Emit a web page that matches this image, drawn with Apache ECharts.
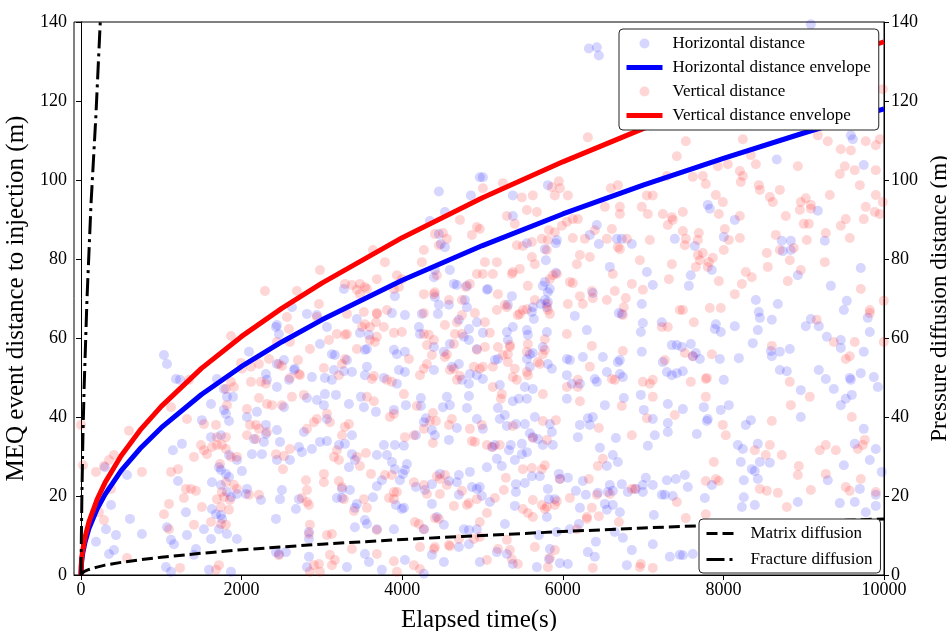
<!DOCTYPE html>
<html>
<head>
    <meta charset="utf-8">
    <title>MEQ distance vs time</title>
    <script type="text/javascript" src="https://cdn.jsdelivr.net/npm/echarts@6/dist/echarts.min.js"></script>
</head>
<body style="margin:0">
    <div id="main" style="width: 947px;height:631px;"></div>
    <script type="text/javascript">
    // ticks
    var xTicks = [0, 2000, 4000, 6000, 8000, 10000];

    // scatter: [elapsed time (s), distance (m)]
    var horizontalPoints = [
        [4457,97.1],[4856,96.1],[4967,100.7],[6325,133.3],[6424,133.6],[6449,131.5],[5005,100.7],[5378,96.1],[5814,98.7],[9089,139.4],[9587,111.3],[9612,110.3],[8665,105.2],[9748,103.8],[7806,93.7],
        [7831,92.7],[8142,89.9],[9176,92.2],[8005,85.6],[7644,83.3],[7856,77.2],[8727,84.6],[8740,82],[8840,84.6],[8840,82.3],[8927,75.9],[9263,84.6],[9711,77.7],[7594,75.9],[7570,73.2],[9338,73.2],[8404,69.6],[8678,68.6],[9537,69.4],[9500,67.1],[9798,65.1],[8441,66.6],[8454,65.1],[8603,64.6],[7906,63.5],[7893,62.3],[7968,61.5],[8142,63],[8429,62],[9089,64.8],[9026,63],[9188,63],[9823,61.5],[8366,58.7],[9288,60.3],[9462,59.5],[9462,57.5],[9748,56.5],[7594,58.5],[7657,56.2],[7619,55.4],[7707,54.7],[7956,54.7],[8192,54.9],[8591,56.7],[8603,55.4],[8703,56.5],[8827,57.2],[7495,51.6],[8005,49.4],[8703,51.9],[8790,51.6],[8964,46.8],[9188,51.9],[9275,49.6],[9375,47.1],[9574,49.9],[9587,49.4],[9711,51.1],[9873,50.1],[9923,47.6],
        [7756,42.5],[7495,42],[7968,41.8],[8068,43],[7806,39.5],[7794,39],[8279,38],[8342,39.2],[7669,35.7],[8180,32.9],[8242,31.9],[8429,33.2],[8217,28.6],[8454,28.6],[8578,28.4],[8354,26.8],[8391,26.3],[7520,25.3],[7856,22.8],[7557,22.3],[8254,24],[8429,24.3],[8254,19.7],[7769,19.5],[9636,33.2],[9898,31.9],[9823,29.1],[9500,27.8],[9300,24],[9972,26.1],[9699,21.8],[8927,18.5],[9450,18.2],[9636,18.5],[9773,15.9],[9898,17.5],[9898,20.3],[8230,17.2],[8391,17.7],[8964,40],[9599,45.6],[9524,44.6],[9462,43],[9748,37],[7495,5],[7619,5.3],
        [5378,44],[5453,44.6],[5553,44.6],[6051,44.6],[6524,43],[6760,44.8],[6972,45.6],[7308,43.3],[7009,41.8],[7121,39.5],[7308,38.5],[7146,35.4],[7308,36.2],[7059,32.7],[6661,34.7],[6462,32.2],[6623,30.4],[6686,28.6],[6549,27.6],[6213,38],[6337,38],[6312,39.7],[6374,40],[6188,34.9],[5652,40],[5839,38.2],[5528,38.2],[5416,38.2],[5304,37.7],[5216,39.5],[5279,40.5],[5192,42.3],[5005,37],[5590,35.9],[5627,34.9],[5690,34.4],[5752,32.9],[5864,36.2],[5876,32.9],[5490,33.2],[5353,32.9],[5329,31.6],[5154,32.9],[5117,32.4],[5403,29.1],[5490,30.6],[5553,31.1],[5179,29.4],[5055,27.3],[5241,27.6],[5615,25],[5714,25],[5951,25.6],[5964,24.3],[6063,24.6],[5416,23],[5416,21],[5528,23.3],[5814,21.8],[4967,22.3],[4992,20],[5092,18.5],[5279,12.9],[5827,19.2],[5901,19.2],[5802,14.7],[5403,17.5],[6213,17],[6163,21.3],[6287,20.3],[6437,20.8],[6586,22.8],[6623,21.3],[6561,21],[6735,23],[6810,21],[6910,21.8],[6997,22.8],[7034,24.6],[6997,21],[7121,22.8],[7233,20.3],[6250,23.8],[6524,18],[6623,17.7],[6711,15.9],[6549,16.5],[6200,12.9],[7134,15.2],[7271,20.3],[7370,20],[7296,24],[7408,24.3],[7121,7.8],[6860,6.3],[6798,2.5],[7333,4.6],[7457,5.1],[6412,8.4],[6312,5.8],[6399,4.6],[6063,2.8],[5964,3],[5827,4],[5839,6.6],[5677,2],[5179,5.8],[5304,5.3],[5378,2.8],[4967,3.3],[5926,10.9],[5702,10.1],[6648,10.9],[6748,9.4],[6088,11.6],
        [2527,42.5],[2814,44.8],[2938,44.3],[3038,45.8],[3175,45.6],[3337,43.3],[3486,45.1],[3523,42.5],[3673,41.3],[3897,41.8],[4046,43],[4233,44.8],[4233,42.8],[4295,39.7],[4270,38.7],[4507,42.5],[4557,45.1],[4594,43],[4806,42.3],[4831,45.3],[4171,35.4],[4370,36.7],[4407,35.4],[4582,34.2],[4681,37.2],[4930,39.5],[4021,32.7],[3909,32.9],[3772,32.9],[3685,30.4],[3810,30.4],[3872,28.6],[3909,26.8],[4059,28.1],[4034,26.6],[3374,30.6],[3411,29.1],[3337,27.3],[3212,32.9],[3287,33.2],[2976,33.7],[3063,33.9],[2776,36.2],[2714,32.4],[2751,31.1],[2876,31.9],[2478,33.7],[2440,29.1],[2602,29.1],[2440,36.7],[3063,39.5],[3025,43],[3374,35.4],[3685,22.5],[3747,24],[3250,21.8],[3349,21.5],[2502,21.5],[2478,19.2],[2714,19.2],[2677,16.7],[3187,19.5],[3250,19.5],[3436,18],[3411,17],[3636,19.7],[3922,17.7],[3996,16.7],[4021,17],[3972,24],[4009,25.6],[4171,22.3],[4283,21.5],[4370,23],[4470,25.6],[4582,23.8],[4681,23.5],[4868,22.3],[4930,21.8],[4706,25.3],[4843,26.1],[4370,18],[4706,20.3],[4270,11.6],[4432,14.7],[4519,12.7],[2839,10.9],[2839,9.1],[3411,12.1],[3536,13.9],[3561,12.9],[3685,11.6],[3897,11.6],[4370,5.1],[4519,3.3],[4706,7.1],[4831,7.8],[4768,11.6],[4831,11.4],[4930,11.6],[2465,5.3],[2552,5.8],[2839,4.6],[2814,2],[3312,2],[3536,5.3],[3586,3.3],[3747,1.3],[4034,3.8],[4270,0.3],
        [299,27.3],[573,25.3],[374,17.7],[311,11.6],[436,10.1],[187,8.4],[610,14.2],[411,6.3],[349,5.3],[759,10.4],[1257,33.2],[1145,31.6],[1208,23.8],[1506,39.2],[1619,43.3],[1818,45.1],[1893,45.1],[1843,39],[1805,40.8],[1780,41.8],[2191,41.3],[2067,40],[2303,38],[2154,34.4],[2278,33.7],[2303,35.7],[1619,34.9],[1743,35.4],[1843,30.4],[1942,29.1],[1718,27.3],[1743,26.6],[1805,25.6],[1843,24.8],[2004,26.3],[2129,30.6],[2253,30.6],[1631,23.5],[1743,22.8],[1818,21],[1942,20.5],[1868,19.7],[2067,21.8],[2054,20.5],[2241,19],[1631,16.7],[1681,15.4],[1743,15.2],[1755,14.2],[1531,11.6],[1307,15.9],[1071,12.1],[1121,8.9],[1158,7.8],[1320,10.1],[1619,9.1],[1718,11.6],[1818,10.4],[1942,9.1],[1432,6.6],[1407,5.1],[1058,2],[1121,0.8],[1594,1.3],[1868,0.8],[2428,5.8],[2428,14.2],
        [1033,55.7],[1071,53.4],[1183,49.6],[1233,49.4],[2092,56.5],[2303,50.9],[2316,49.4],[2440,53.4],[2428,62.8],[1693,49.6],[1780,47.1],
        [4345,89.6],[4532,91.9],[4457,86.3],[4482,83.8],[4532,83],[4594,77.2],[4407,77.2],[4395,75.4],[4644,73.7],[4681,73.4],[4806,73.2],[4407,70.4],[4457,68.4],[4582,68.4],[4781,69.6],[4806,67.8],[4706,64.6],[4831,62.3],[4930,64],[4445,66.1],[4245,66.1],[3909,70.6],[3872,66.3],[4034,65.8],[3274,72.4],[2627,67.8],[2814,66.1],[2938,65.8],[3063,62.8],[3436,64.8],[3474,61.3],[3586,60.8],[3561,57.2],[3536,57],[2976,58.5],[3125,55.9],[3162,55.7],[3312,54.4],[3150,51.9],[3274,51.6],[3374,51.4],[3536,50.6],[3561,52.7],[3772,49.9],[2876,50.1],[3038,49.9],[3125,49.4],[2527,54.4],[2652,51.9],[2664,52.2],[2440,47.6],[2590,49.4],[2440,63.3],[2465,61],[3897,57],[3934,55.9],[4034,56.5],[3959,51.9],[4034,51.4],[3934,48.4],[4208,62.8],[4221,61],[4395,57.7],[4519,56.5],[4594,58.5],[4768,60.3],[4831,59.5],[4395,51.9],[4619,52.7],[4706,53.4],[4744,49.4],[4843,50.9],[4831,48.4],[4930,57.2],[4930,50.6],
        [5378,90.9],[6424,88.6],[6337,86.1],[6449,83.8],[5926,84.8],[5914,84],[5553,84],[5777,82.5],[5789,79.7],[6673,85.1],[6735,85.1],[6860,83.8],[7395,85.1],[6586,78],[7047,76.7],[7121,73.4],[5067,72.4],[5055,72.2],[5366,70.6],[5914,76.5],[5752,73.2],[5777,74.2],[5839,72.4],[5814,71.6],[5777,69.6],[5814,69.1],[5802,67.8],[5727,68.6],[5627,67.8],[5615,66.6],[5640,64.8],[5316,68.4],[5378,62.8],[5304,61.5],[5005,61.3],[5553,62],[5565,60.8],[5802,61.5],[5590,55.9],[5627,56.2],[5553,54.7],[5590,52.7],[5316,59.5],[5192,54.7],[5154,54.4],[5752,57.7],[5814,53.4],[5864,52.2],[6051,50.6],[6113,48.4],[6213,48.4],[6088,54.4],[6250,55.2],[6300,62],[6499,55.2],[6150,65.6],[6374,71.4],[6698,66.3],[6735,66.1],[6984,68.6],[6997,63.8],[6972,61.5],[7233,64],[6984,56.5],[7358,58.2],[7420,58.2],[7483,57.7],[7246,53.9],[7296,51.4],[7358,50.6],[7420,51.1],[6711,54.4],[6686,53.9],[6549,51.4],[6748,50.1],[6711,50.9],[6399,49.6],[6424,48.9],[6051,54.7],[5005,49.6],[5216,48.1],[5528,47.6],[5627,47.1]
    ];

    var verticalPoints = [
        [6312,110.8],[5005,97.9],[5254,99.2],[5490,95.6],[5627,96.1],[5864,98.2],[5951,99.7],[5964,97.9],[5901,96.1],[6063,96.1],[6598,97.9],[6686,98.7],[7047,96.1],[7121,96.1],[7420,106],[7296,101],[9985,123],[7532,109.8],[8242,110.3],[9176,111.3],[9300,109.8],[9462,107.8],[9587,107.5],[9773,109.8],[9898,108.8],[9948,110.3],[7619,100.8],[7744,101],[7781,99],[7906,96.2],[7931,103.5],[8055,104],[7993,94.4],[8205,102.3],[8217,99.5],[8242,101],[8342,106.3],[8404,104],[8441,98.7],[8454,97.5],[8578,95.7],[8615,94.4],[8703,97.5],[8927,103.5],[8964,94.4],[9026,95.4],[9089,93.7],[9325,96.2],[9450,101.5],[9512,103.5],[9636,102.5],[9898,102.5],[9699,98.7],[9898,96.2],[9985,94.4],
        [7943,91.4],[8205,90.9],[8777,90.9],[8952,92.4],[9089,92.7],[9001,88.9],[9064,88.9],[9773,93.2],[9885,91.9],[9948,91.4],[9748,90.1],[9524,90.1],[9462,88.4],[9574,85.3],[7495,91.9],[7495,87.1],[7532,85.1],[7520,83.5],[7694,86.6],[7682,84.8],[8068,84.8],[8018,87.6],[8205,85.3],[7744,81.5],[7682,81],[7707,79.7],[7868,80.3],[7819,79.2],[7806,78],[7657,78],[8005,82.3],[8653,86.1],[8703,82.3],[8877,82.8],[8541,81.5],[8827,79.7],[8553,78],[8964,77.2],[8802,74.4],[9039,84.8],[9275,86.6],[9263,79.2],[8279,76.7],[8354,75.4],[7943,74.4],[8230,73.7],[9711,72.4],[8142,71.1],[9997,69.4],[9823,67.1],[9823,66.3],[7831,67.6],[7968,67.6],[7495,67.1],[7632,64],[9163,64.6],[9375,59],[9636,59],[9997,59],[7520,56.2],[7619,55.4],[7856,55.9],[8603,58],[9524,54.7],[9574,55.4],[7594,48.9],[7781,49.6],[7794,49.9],[8827,48.9],[10010,47.6],
        [7781,45.1],[7993,38],[8030,35.4],[8603,39],[8578,32.9],[8391,31.6],[8528,30.4],[8727,30.4],[7881,28.6],[8939,27.6],[8927,25.3],[7906,24.3],[7943,23.8],[7781,23.8],[8454,21.8],[8541,21.3],[8678,20.8],[9200,31.6],[9275,32.9],[9400,31.6],[9674,31.9],[9736,32.9],[9761,34.2],[9275,25.6],[9711,24.3],[9524,22.3],[9574,21.3],[9089,21.5],[8790,17.2],[9898,21],[7532,14.4],[7781,15.4],[9599,40],[8840,43],[9076,45.1],
        [5241,45.8],[5229,44.6],[5752,45.8],[6213,44],[6735,42.8],[7121,45.1],[7395,40.5],[7047,39.7],[6860,35.4],[6499,29.4],[6437,27.6],[6449,37.2],[5914,39.2],[5752,39],[5378,37.7],[4992,38],[5802,34.2],[5627,34.7],[5216,32.9],[5129,32.4],[5055,32.9],[5503,26.8],[5615,27.1],[5739,26.8],[5777,27.8],[5964,24.3],[5291,24.6],[5266,21.5],[5154,19.5],[5055,15.7],[4967,13.4],[5627,19],[5503,16.7],[5565,15.7],[5627,14.7],[5739,17.7],[5802,17.2],[5777,16.7],[5926,18.7],[5901,17.7],[6088,19.5],[6300,14.7],[6362,17],[6424,20.3],[6586,20.5],[6325,24.3],[6449,14.9],[6698,13.4],[6300,14.2],[6860,21.8],[6897,21.8],[7420,18.5],[6972,2.8],[6960,2],[7121,1.8],[6374,1.8],[5814,2],[5839,4.3],[5652,7.1],[5901,6.3],[5192,6.6],[5304,8.9],[5341,6.3],[5366,4],[5440,2.8],[5055,3.8],[4967,9.6],[6175,11.6],
        [2502,43],[2627,45.1],[2776,45.6],[3561,45.1],[3648,44],[3847,40],[3897,40.8],[4021,45.8],[4183,42.8],[4382,41],[4345,39],[4420,39],[4582,38],[4619,39.5],[4270,37],[4868,33.9],[4905,33.7],[4034,34.9],[4146,35.4],[4382,33.4],[4843,37],[3548,30.9],[3436,29.9],[3474,27.6],[3187,31.6],[3150,29.9],[3212,29.1],[2602,31.9],[2527,30.1],[2515,26.8],[2814,37],[2901,38.7],[2938,39.5],[3063,40.8],[3100,38.7],[3287,37.5],[3337,38.2],[3250,35.4],[3611,25.6],[3785,25.3],[3872,25.3],[3212,23.8],[3250,22.3],[3025,25.6],[3025,23.5],[2814,21.5],[2801,24],[2751,19.5],[2814,18.5],[2839,17.7],[3275,19.2],[3399,16.2],[3523,19.2],[3561,17],[3897,21],[3835,19.5],[3897,19.2],[3934,21],[4146,23.5],[4270,22.8],[4308,20.5],[4432,25],[4470,24.3],[4532,25.3],[4470,20.5],[4557,22.8],[4744,21.3],[4831,18.2],[4806,17.7],[4644,17.5],[4930,19.2],[4158,13.4],[4208,12.9],[4270,11.6],[4407,14.4],[4457,14.2],[2851,12.7],[2839,10.4],[3063,10.1],[3125,10.4],[3685,11.4],[4221,7.1],[4407,7.1],[4395,6.6],[4582,7.6],[4594,7.3],[4706,9.1],[4893,9.1],[2465,5],[2901,2.5],[2963,2.8],[2851,0.8],[2976,0.8],[3100,5.1],[3162,3.8],[3125,2.5],[3374,6.6],[3685,5.3],[3897,3.5],[3934,0.8],[4146,2.5],[4221,1.5],
        [0,38],[25,27.8],[187,26.1],[286,27.6],[349,29.1],[411,30.4],[598,36.5],[759,26.1],[374,21.8],[224,15.9],[286,13.9],[573,4.3],[1121,26.1],[1208,26.8],[1320,39.5],[1121,42.5],[1818,43],[1531,38.2],[1681,38],[2067,42],[2216,44.8],[2316,43.3],[2378,43],[2104,38],[2179,38],[2216,37],[2316,36.2],[2067,35.4],[2179,34.4],[1693,34.9],[1805,34.9],[1494,32.9],[1631,32.4],[1569,30.6],[1531,31.6],[1693,32.9],[1755,32.9],[1805,31.9],[1868,29.9],[1942,29.9],[1407,29.9],[1731,28.1],[1805,23.5],[1905,22.8],[1942,21.8],[1755,21],[1780,19.7],[1693,19.2],[1855,19],[2216,20.3],[2092,20.3],[1307,21.8],[1370,21.8],[1432,21.3],[1282,19.5],[1506,17.2],[1743,17.2],[1843,16.5],[1619,13.4],[1743,12.9],[1805,12.7],[1033,15.4],[1096,18],[1096,11.6],[1407,12.7],[1233,1.8],[1718,2.5],[1681,1.3],[2428,30.6],
        [2291,71.9],[1868,60.5],[1345,49.4],[2117,52.7],[2216,53.4],[2341,54.7],[2117,48.9],[2241,48.9],[2303,48.4],[1992,53.7],[2004,52.2],[1868,48.9],[1905,47.6],[1805,47.1],
        [4719,89.9],[2976,77.2],[2689,71.9],[3636,82.3],[3785,79.2],[4270,82.3],[4245,79.2],[4407,86.3],[4507,86.6],[4557,85.1],[4457,83.5],[4868,86.1],[4930,88.1],[4432,75.9],[4930,76.2],[4793,72.9],[4843,73.7],[4270,71.1],[4407,71.6],[4395,71.1],[4582,69.6],[4744,69.6],[4744,65.8],[4905,66.3],[4681,64],[4532,63.3],[4656,61],[4270,66.3],[3685,74.9],[3934,75.9],[3996,74.9],[3959,72.9],[3897,72.4],[3810,67.1],[3685,66.3],[3523,66.6],[3287,73.7],[3374,73.4],[3474,73.7],[3536,72.9],[3436,72.2],[3561,72.4],[3474,71.1],[2963,68.6],[2938,65.3],[3312,66.1],[3685,66.1],[3673,64],[3598,62.8],[3536,63.5],[3499,62.8],[3312,61],[3287,60.8],[3187,61],[3772,62.8],[3598,59.5],[3660,59],[3685,60.3],[3897,61.3],[3996,61.5],[3436,57.2],[2851,57.2],[3088,59.5],[3287,54.7],[3025,52.4],[3212,50.6],[3250,53.4],[3623,49.6],[3648,50.4],[2465,53.4],[2502,52.9],[2702,54.4],[2714,50.9],[2602,49.9],[2727,50.6],[2565,65.3],[2590,62.3],[2440,59],[2602,59],[4084,54.7],[3810,49.4],[3872,48.9],[4270,61],[4332,60.8],[4395,59.5],[4308,58.2],[4370,55.7],[4557,55.9],[4532,55.2],[4644,58.5],[4744,61],[4308,53.4],[4270,52.2],[4221,50.6],[4594,51.9],[4644,52.2],[4681,49.4],[4719,50.4],[4930,57],[4893,52.7],
        [5304,90.9],[5403,88.9],[5553,92.4],[5677,91.9],[4967,87.6],[6051,89.4],[6125,90.1],[6188,90.1],[6524,93.2],[6711,91.4],[6711,93.2],[6984,93.2],[7059,91.4],[7246,91.4],[7358,90.6],[7370,89.9],[7308,88.6],[6399,87.3],[6549,85.1],[6611,87.6],[6275,85.1],[6125,85.3],[5989,88.4],[5901,86.8],[5827,87.3],[5814,84.8],[5739,85.1],[5615,84.3],[5503,83.3],[5428,83.5],[5802,82.3],[5615,80.5],[5652,78.7],[6686,83],[6711,82.5],[6798,85.1],[7084,84.8],[6960,79.7],[7358,78.7],[6213,81],[6337,80.5],[6175,78.7],[6623,76.2],[7321,74.9],[6860,73.7],[6997,72.2],[5378,76.7],[5366,76.2],[5465,77.5],[5129,76.2],[5005,76.2],[5030,79.2],[5179,79.2],[5192,71.1],[5565,73.2],[5839,74.9],[5876,75.9],[5926,76.2],[6088,74.2],[6125,73.9],[5802,68.6],[5814,67.1],[5839,66.1],[5503,67.1],[5553,67.3],[5652,69.6],[5440,65.8],[5465,66.1],[5279,68.4],[5304,67.8],[5179,67.1],[5092,61.3],[5030,64],[5777,59.7],[5565,58.5],[5553,56.5],[5341,58.2],[5341,57.7],[5192,57.7],[5030,57.7],[5005,52.7],[4967,52.2],[5316,55.9],[5254,55.7],[5403,52.2],[5316,53.9],[5129,52.7],[5777,57],[5752,55.9],[5714,53.4],[5690,53.9],[5553,51.4],[5565,50.6],[6188,49.4],[6337,52.7],[6362,58],[6051,61],[6063,68.6],[6213,70.6],[6250,68.6],[6362,71.9],[6374,70.1],[6549,69.6],[6648,71.9],[6760,67.8],[6748,65.8],[6785,70.1],[7308,62.8],[7233,62.8],[7457,67.1],[6748,56.7],[7271,54.4],[6997,48.9],[7084,48.4],[7121,49.4],[6611,49.6],[6648,49.4],[5378,50.1],[5428,49.4],[5129,47.6],[6051,47.6],[6188,47.6]
    ];

    // envelope curves at these times
    var envTime        = [0, 5, 10, 20, 50, 100, 200, 300, 500, 750, 1000, 1500, 2000, 2500, 3000, 4000, 5000, 6000, 7000, 8000, 9000, 10000];
    var horizontalEnv  = [0, 2.6, 3.7, 5.3, 8.3, 11.8, 16.7, 20.4, 26.4, 32.3, 37.3, 45.7, 52.8, 59.0, 64.6, 74.6, 83.4, 91.4, 98.7, 105.5, 111.9, 118.0];
    var verticalEnv    = [0, 3.0, 4.3, 6.0, 9.5, 13.5, 19.1, 23.4, 30.2, 37.0, 42.7, 52.3, 60.4, 67.5, 73.9, 85.4, 95.5, 104.6, 113.0, 120.7, 128.1, 135.0];
    var matrixDiff     = [0, 0.3, 0.45, 0.6, 1.0, 1.4, 2.0, 2.5, 3.2, 3.9, 4.5, 5.5, 6.4, 7.1, 7.8, 9.0, 10.0, 11.0, 11.9, 12.7, 13.5, 14.2];
    var fractureTime   = [0, 5, 12, 25, 40, 75, 125, 185, 240];
    var fractureDiff   = [0, 10, 21, 36, 48, 70, 94, 116, 140];

    function pairs(xs, ys) {
        var out = [];
        for (var i = 0; i < xs.length; i++) out.push([xs[i], ys[i]]);
        return out;
    }

    var font = 'Liberation Serif';
    var myChart = echarts.init(document.getElementById('main'));

    // line entries in the legend: no marker, full line thickness
    var lineEntry = function (name, width) {
        return { name: name, itemStyle: { opacity: 0 }, lineStyle: { width: width } };
    };

    var option = {
        animation: false,
        backgroundColor: '#fff',
        textStyle: { fontFamily: font, color: '#000' },
        grid: {
            left: 74, right: 63, top: 22, bottom: 56,
            outerBoundsMode: 'none',
            containLabel: false,
            show: true, borderColor: '#000', borderWidth: 1
        },
        legend: [
            {
                data: ['Horizontal distance', lineEntry('Horizontal distance envelope', 5), 'Vertical distance', lineEntry('Vertical distance envelope', 5)],
                orient: 'vertical',
                left: 619, top: 29,
                padding: [6, 8, 6, 5],
                itemGap: 7,
                itemWidth: 36,
                itemHeight: 10,
                borderColor: '#222', borderWidth: 1, borderRadius: 4,
                backgroundColor: '#fff',
                textStyle: { fontFamily: font, fontSize: 17, lineHeight: 16, color: '#000', padding: [0, 0, 0, 5] }
            },
            {
                data: [lineEntry('Matrix diffusion', 3), lineEntry('Fracture diffusion', 3)],
                orient: 'vertical',
                left: 699, top: 519,
                padding: [6, 8, 5, 6],
                itemGap: 9,
                itemWidth: 30,
                itemHeight: 10,
                borderColor: '#222', borderWidth: 1, borderRadius: 4,
                backgroundColor: '#fff',
                textStyle: { fontFamily: font, fontSize: 17, lineHeight: 16, color: '#000', padding: [0, 0, 0, 9] }
            }
        ],
        xAxis: {
            type: 'value',
            min: -87, max: 10000,
            name: 'Elapsed time(s)',
            nameLocation: 'middle',
            nameGap: 33,
            nameTextStyle: { fontFamily: font, fontSize: 25, color: '#000' },
            axisLine: { onZero: false, lineStyle: { color: '#000', width: 1 } },
            axisTick: { show: true, length: 5, lineStyle: { color: '#000' }, customValues: xTicks },
            axisLabel: {
                fontFamily: font, fontSize: 18, color: '#000', margin: 6, customValues: xTicks,
                formatter: function (v) { return String(v); }
            },
            splitLine: { show: false }
        },
        yAxis: [
            {
                type: 'value', min: 0, max: 140, interval: 20,
                name: 'MEQ event distance to injection (m)',
                nameLocation: 'middle',
                nameGap: 42,
                nameTextStyle: { fontFamily: font, fontSize: 25, color: '#000' },
                axisLine: { show: true, lineStyle: { color: '#000', width: 1 } },
                axisTick: { show: true, length: 5, lineStyle: { color: '#000' } },
                axisLabel: { fontFamily: font, fontSize: 18, color: '#000', margin: 7 },
                splitLine: { show: false }
            },
            {
                type: 'value', min: 0, max: 140, interval: 20,
                position: 'right',
                name: 'Pressure diffusion distance (m)',
                nameLocation: 'middle',
                nameGap: 39,
                nameRotate: 90,
                nameTextStyle: { fontFamily: font, fontSize: 23, color: '#000' },
                axisLine: { show: true, lineStyle: { color: '#000', width: 1 } },
                axisTick: { show: true, length: 5, lineStyle: { color: '#000' } },
                axisLabel: { fontFamily: font, fontSize: 18, color: '#000', margin: 7 },
                splitLine: { show: false }
            }
        ],
        series: [
            {
                name: 'Horizontal distance',
                type: 'scatter',
                symbolSize: 10,
                itemStyle: { color: 'rgba(0,0,255,0.2)' },
                data: horizontalPoints
            },
            {
                name: 'Horizontal distance envelope',
                type: 'line',
                symbol: 'none',
                lineStyle: { color: '#0000ff', width: 5 },
                itemStyle: { color: '#0000ff' },
                data: pairs(envTime, horizontalEnv)
            },
            {
                name: 'Vertical distance',
                type: 'scatter',
                symbolSize: 10,
                itemStyle: { color: 'rgba(255,0,0,0.2)' },
                data: verticalPoints
            },
            {
                name: 'Vertical distance envelope',
                type: 'line',
                symbol: 'none',
                lineStyle: { color: '#ff0000', width: 5 },
                itemStyle: { color: '#ff0000' },
                data: pairs(envTime, verticalEnv)
            },
            {
                name: 'Matrix diffusion',
                type: 'line',
                yAxisIndex: 1,
                symbol: 'none',
                lineStyle: { color: '#000', width: 3, type: [11, 5] },
                itemStyle: { color: '#000' },
                data: pairs(envTime, matrixDiff)
            },
            {
                name: 'Fracture diffusion',
                type: 'line',
                yAxisIndex: 1,
                symbol: 'none',
                lineStyle: { color: '#000', width: 3, type: [18, 5, 3, 5] },
                itemStyle: { color: '#000' },
                data: pairs(fractureTime, fractureDiff)
            }
        ]
    };

    myChart.setOption(option);
    </script>
</body>
</html>
